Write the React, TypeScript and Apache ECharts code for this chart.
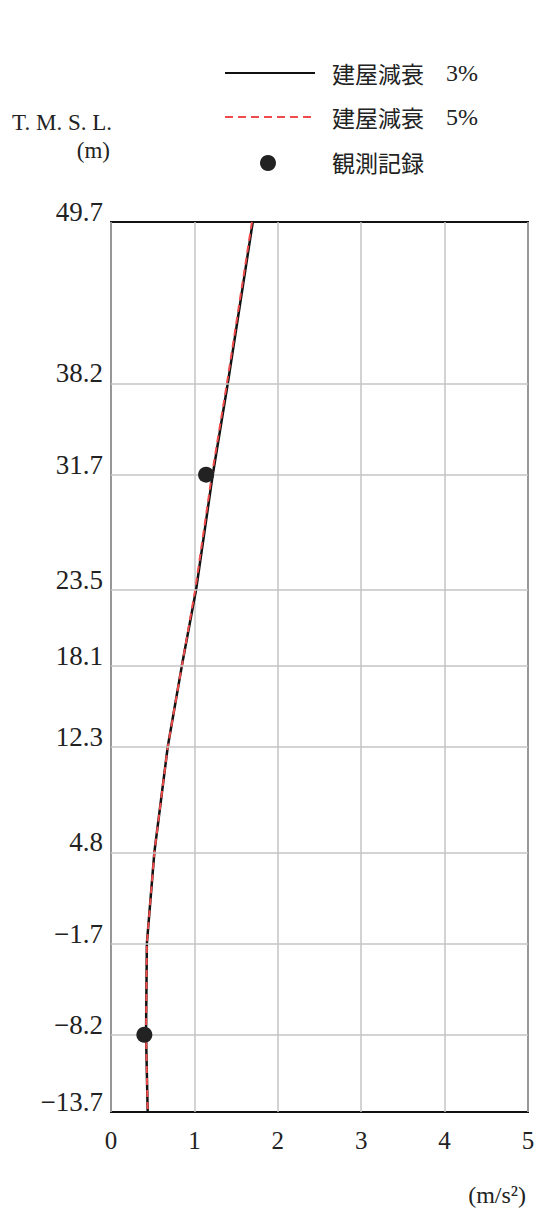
import React, { useEffect, useRef } from "react";
import * as echarts from "echarts";

const elevations = [49.7, 38.2, 31.7, 23.5, 18.1, 12.3, 4.8, -1.7, -8.2, -13.7];
const damping3 = [1.7, 1.4, 1.22, 1.02, 0.85, 0.68, 0.52, 0.43, 0.42, 0.44];
const damping5 = [1.69, 1.39, 1.21, 1.01, 0.85, 0.68, 0.52, 0.43, 0.42, 0.44];
const observedElev = [31.7, -8.2];
const observedAcc = [1.14, 0.4];
const xTicks = [0, 1, 2, 3, 4, 5];

const SERIF = "'Liberation Serif', 'DejaVu Serif', serif";
const CJK = "'Noto Sans CJK JP', sans-serif";

export default function App() {
  const ref = useRef<HTMLDivElement>(null);
  useEffect(() => {
    if (!ref.current) return;
    const chart = echarts.init(ref.current, null, { renderer: "svg" });
    const gridLines = elevations.slice(1, -1).map((e) => ({ yAxis: e }));
    const txt = (x: number, y: number, text: string, font: string, size: number, align = "left") => ({
      type: "text",
      x,
      y,
      style: { text, fontFamily: font, fontSize: size, fill: "#222", align, verticalAlign: "middle" },
    });
    chart.setOption({
      animation: false,
      backgroundColor: "#ffffff",
      grid: {
        left: 111,
        top: 222,
        right: 12,
        bottom: 101,
        show: true,
        borderColor: "#111",
        borderWidth: 2,
        backgroundColor: "transparent",
      },
      xAxis: {
        type: "value",
        min: 0,
        max: 5,
        interval: 1,
        axisLine: { show: false },
        axisTick: { show: false },
        axisLabel: {
          margin: 16,
          fontFamily: SERIF,
          fontSize: 25,
          color: "#222",
          customValues: xTicks,
        },
        splitLine: { show: true, lineStyle: { color: "#c4c4c4", width: 1.5 } },
      },
      yAxis: {
        type: "value",
        min: -13.7,
        max: 49.7,
        axisLine: { show: false },
        axisTick: { show: false },
        splitLine: { show: false },
        axisLabel: {
          margin: 8,
          fontFamily: SERIF,
          fontSize: 27,
          lineHeight: 20,
          verticalAlign: "bottom",
          color: "#222",
          customValues: elevations,
          formatter: (v: number) => v.toFixed(1).replace("-", "\u2212"),
        },
      },
      graphic: [
        { type: "line", shape: { x1: 225, y1: 73, x2: 315, y2: 73 }, style: { stroke: "#111", lineWidth: 2 } },
        {
          type: "line",
          shape: { x1: 225, y1: 117, x2: 315, y2: 117 },
          style: { stroke: "#f04a4a", lineWidth: 2, lineDash: [8, 5] },
        },
        { type: "circle", shape: { cx: 268, cy: 163, r: 8 }, style: { fill: "#222" } },
        txt(332, 73, "建屋減衰", CJK, 23),
        txt(446, 73, "3%", SERIF, 24),
        txt(332, 117, "建屋減衰", CJK, 23),
        txt(446, 117, "5%", SERIF, 24),
        txt(332, 162, "観測記録", CJK, 23),
        txt(112, 122, "T. M. S. L.", SERIF, 23, "right"),
        txt(110, 150, "(m)", SERIF, 23, "right"),
        txt(526, 1195, "(m/s²)", SERIF, 24, "right"),
      ],
      series: [
        {
          type: "line",
          name: "grid",
          data: [],
          silent: true,
          z: 1,
          markLine: {
            silent: true,
            symbol: "none",
            label: { show: false },
            lineStyle: { color: "#c4c4c4", width: 1.5, type: "solid" },
            data: gridLines,
          },
        },
        {
          type: "line",
          name: "建屋減衰 3%",
          data: elevations.map((e, i) => [damping3[i], e]),
          showSymbol: false,
          lineStyle: { color: "#111", width: 2.5 },
          z: 3,
        },
        {
          type: "line",
          name: "建屋減衰 5%",
          data: elevations.map((e, i) => [damping5[i], e]),
          showSymbol: false,
          lineStyle: { color: "#f04a4a", width: 2, type: [7, 5] },
          z: 4,
        },
        {
          type: "scatter",
          name: "観測記録",
          data: observedElev.map((e, i) => [observedAcc[i], e]),
          symbolSize: 16,
          itemStyle: { color: "#222", opacity: 1 },
          z: 5,
        },
      ],
    });
    return () => chart.dispose();
  }, []);
  return <div ref={ref} style={{ position: "fixed", left: 0, top: 0, width: 540, height: 1213 }} />;
}
